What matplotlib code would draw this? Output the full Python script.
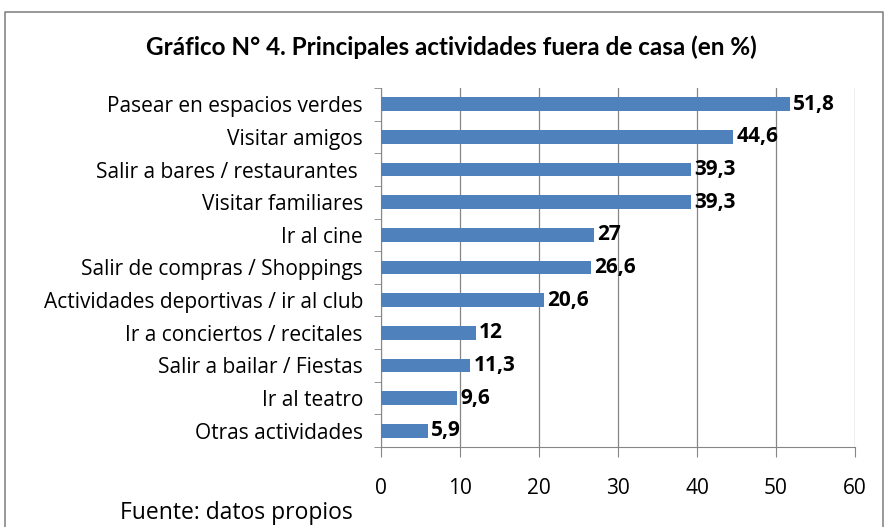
import numpy as np
import matplotlib.pyplot as plt
from matplotlib.lines import Line2D

categories = [
    "Pasear en espacios verdes",
    "Visitar amigos",
    "Salir a bares / restaurantes ",
    "Visitar familiares",
    "Ir al cine",
    "Salir de compras / Shoppings",
    "Actividades deportivas / ir al club",
    "Ir a conciertos / recitales",
    "Salir a bailar / Fiestas",
    "Ir al teatro",
    "Otras actividades",
]
values = [51.8, 44.6, 39.3, 39.3, 27, 26.6, 20.6, 12, 11.3, 9.6, 5.9]
value_labels = ["51,8", "44,6", "39,3", "39,3", "27", "26,6", "20,6", "12", "11,3", "9,6", "5,9"]
x_ticks = [0, 10, 20, 30, 40, 50, 60]

plt.rcParams['font.family'] = ['Lato', 'DejaVu Sans']
label_font = ['Open Sans', 'DejaVu Sans']

fig = plt.figure(figsize=(8.87, 5.27), dpi=100)
ax = fig.add_axes([381 / 887, 1 - 447 / 527, (855 - 381) / 887, (447 - 88) / 527])

n = len(categories)
ypos = np.arange(n)[::-1]
ax.barh(ypos, values, height=0.42, color='#4F81BD', zorder=3)
for y, v, lab in zip(ypos, values, value_labels):
    ax.text(v + 0.4, y, lab, va='center', ha='left', fontsize=15, fontweight='bold',
            family=label_font, zorder=4)

ax.set_xlim(0, 60)
ax.set_ylim(-0.5, n - 0.5)
ax.set_xticks(x_ticks)
ax.set_xticklabels([str(t) for t in x_ticks], fontsize=15, family=label_font)
ax.tick_params(axis='x', length=7, color='#868686', pad=15)
ax.set_yticks(ypos)
ax.set_yticklabels(categories, fontsize=15, family=label_font)
ax.tick_params(axis='y', length=0, pad=13)
# category boundary ticks
ax.set_yticks(np.arange(-0.5, n, 1), minor=True)
ax.tick_params(axis='y', which='minor', length=5, color='#868686')

ax.grid(axis='x', color='#868686', linewidth=0.9, zorder=0)
for s in ['top', 'right']:
    ax.spines[s].set_visible(False)
ax.spines['left'].set_color('#868686')
ax.spines['bottom'].set_color('#868686')

fig.text(451 / 887, 1 - 47 / 527, "Gráfico N° 4. Principales actividades fuera de casa (en %)",
         ha='center', va='center', fontsize=17.5, fontweight='bold')
fig.text(120 / 887, 1 - 513 / 527, "Fuente: datos propios", ha='left', va='center',
         fontsize=16.5, family=label_font)

# chart border
fx = lambda p: p / 887
fy = lambda p: 1 - p / 527
fig.add_artist(Line2D([fx(5), fx(5), fx(883), fx(883)], [0, fy(12), fy(12), 0],
                      color='#868686', linewidth=1.2, transform=fig.transFigure))

fig.savefig('out.png', dpi=100)
